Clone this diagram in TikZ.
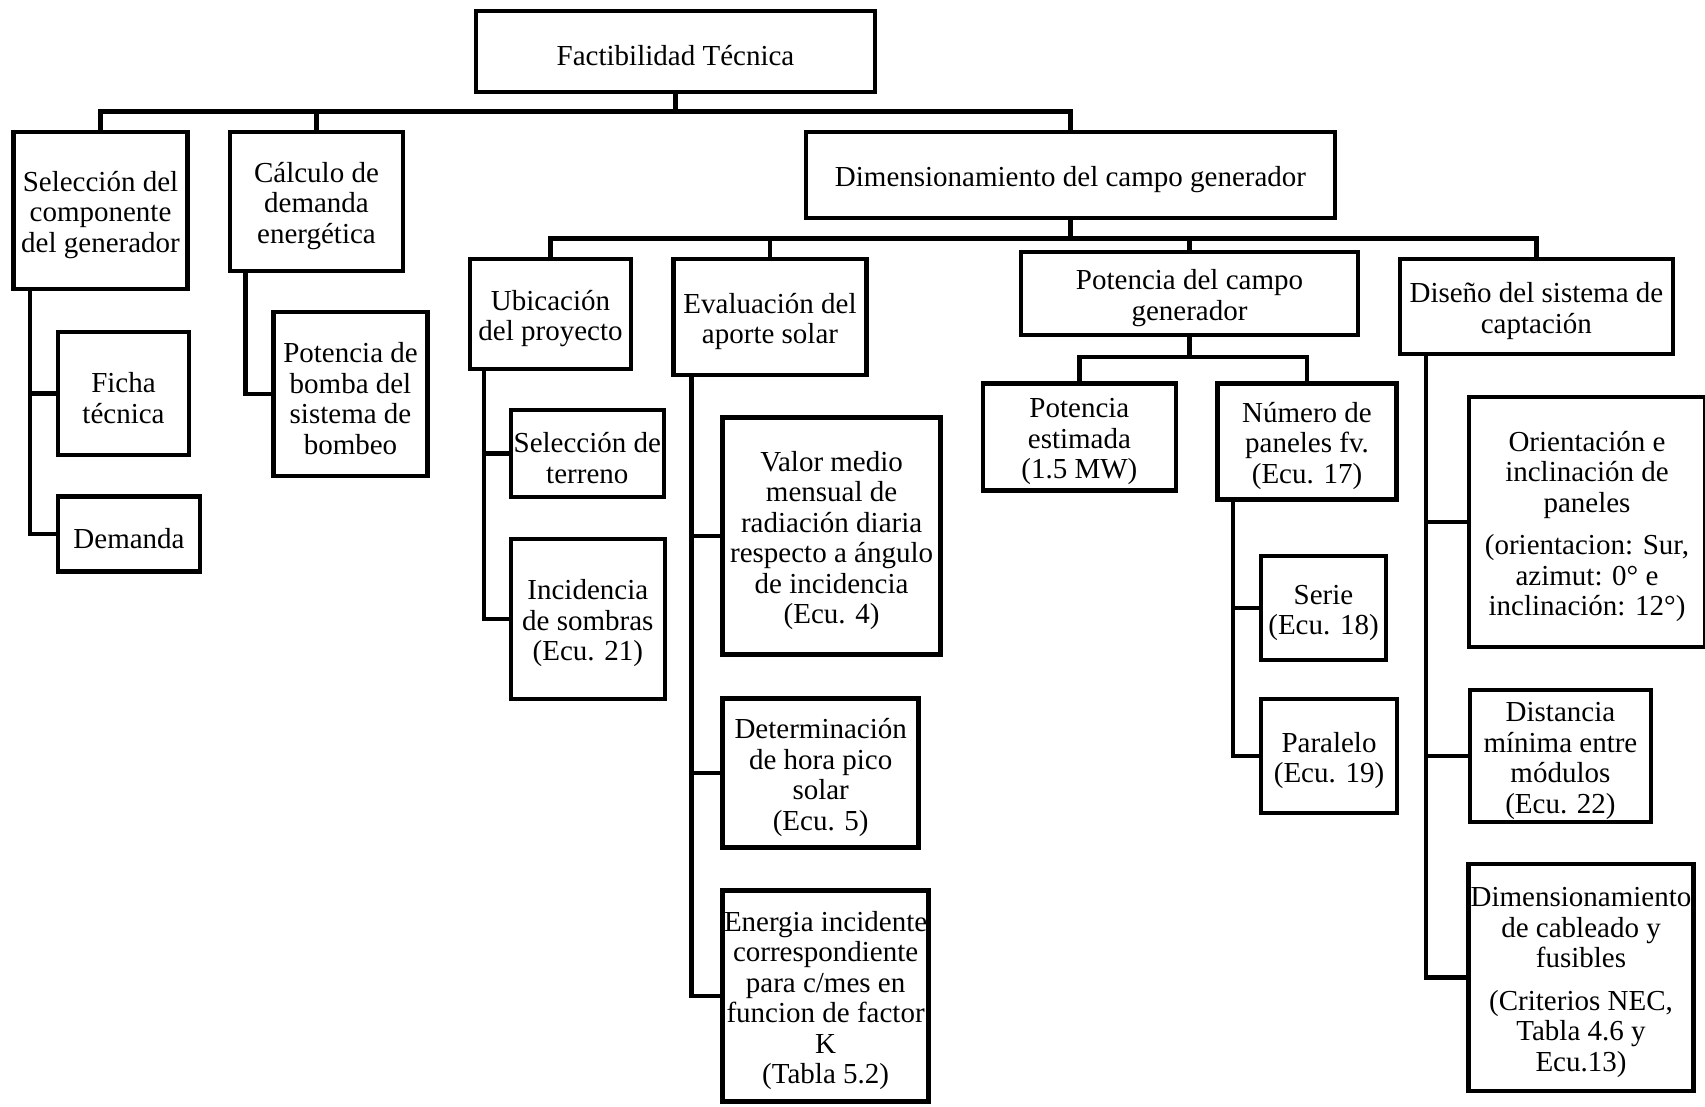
\documentclass[tikz,border=0pt]{standalone}
\usepackage{fontspec}
\setmainfont{Liberation Serif}
\usepackage{tikz}
\newcommand\boxstrut{\rule{0pt}{29pt}}

\begin{document}
\begin{tikzpicture}[x=1pt, y=-1pt,
  box/.style={rectangle, draw=black, line width=4.5pt, fill=white, inner sep=0pt, outer sep=0pt, align=center, font=\fontsize{29}{30.5}\selectfont},
  link/.style={draw=black, line width=4.5pt, line cap=rect, line join=miter}
]
\useasboundingbox (0,0) rectangle (1705,1106);
\node[box, minimum width=399pt, minimum height=81pt] (top) at (675.5,51.5) {\boxstrut Factibilidad Técnica};
\node[box, minimum width=174pt, minimum height=157pt] (sel) at (100.5,210.5) {\boxstrut Selección del\\componente\\del generador};
\node[box, minimum width=173pt, minimum height=139pt] (calc) at (316.5,201.5) {\boxstrut Cálculo de\\demanda\\energética};
\node[box, minimum width=529pt, minimum height=86pt] (dim) at (1070.5,175) {\boxstrut Dimensionamiento del campo generador};
\node[box, minimum width=131pt, minimum height=123pt] (ficha) at (123.5,393.5) {\boxstrut Ficha\\técnica};
\node[box, minimum width=142pt, minimum height=75pt] (dem) at (129,534) {\boxstrut Demanda};
\node[box, minimum width=154pt, minimum height=164pt] (bomba) at (350.5,394) {\boxstrut Potencia de\\bomba del\\sistema de\\bombeo};
\node[box, minimum width=161pt, minimum height=110pt] (ubic) at (550.5,314) {\boxstrut Ubicación\\del proyecto};
\node[box, minimum width=193pt, minimum height=116pt] (eval) at (770,317) {\boxstrut Evaluación del\\aporte solar};
\node[box, minimum width=337pt, minimum height=83pt] (pcampo) at (1189.5,293.7) {\boxstrut Potencia del campo\\generador};
\node[box, minimum width=273pt, minimum height=95pt] (disenio) at (1536.4,306.7) {\boxstrut Diseño del sistema de\\captación};
\node[box, minimum width=153pt, minimum height=87pt] (terreno) at (587.3,453.5) {\boxstrut Selección de\\terreno};
\node[box, minimum width=154pt, minimum height=160pt] (sombras) at (587.8,619) {\boxstrut Incidencia\\de sombras\\(Ecu. 21)};
\node[box, minimum width=218pt, minimum height=237pt] (valor) at (831.6,536) {\boxstrut Valor medio\\mensual de\\radiación diaria\\respecto a ángulo\\de incidencia\\(Ecu. 4)};
\node[box, minimum width=196pt, minimum height=149pt] (hps) at (820.7,773) {\boxstrut Determinación\\de hora pico\\solar\\(Ecu. 5)};
\node[box, minimum width=206pt, minimum height=211pt] (energia) at (825.6,996) {\boxstrut Energia incidente\\correspondiente\\para c/mes en\\funcion de factor\\K\\(Tabla 5.2)};
\node[box, minimum width=193pt, minimum height=107pt] (pest) at (1079.4,437) {\boxstrut Potencia\\estimada\\(1.5 MW)};
\node[box, minimum width=179pt, minimum height=116pt] (npan) at (1307,441.5) {\boxstrut Número de\\paneles fv.\\(Ecu. 17)};
\node[box, minimum width=125pt, minimum height=104pt] (serie) at (1323.5,608) {\boxstrut Serie\\(Ecu. 18)};
\node[box, minimum width=136pt, minimum height=114pt] (paralelo) at (1329,756) {\boxstrut Paralelo\\(Ecu. 19)};
\node[box, minimum width=236pt, minimum height=250pt] (orient) at (1587,522) {\boxstrut Orientación e\\inclinación de\\paneles\\[12pt](orientacion: Sur,\\azimut: 0° e\\inclinación: 12°)};
\node[box, minimum width=181pt, minimum height=132pt] (dist) at (1560.4,756) {\boxstrut Distancia\\mínima entre\\módulos\\(Ecu. 22)};
\node[box, minimum width=225pt, minimum height=227pt] (cable) at (1581,977.5) {\boxstrut Dimensionamiento\\de cableado y\\fusibles\\[12pt](Criterios NEC,\\Tabla 4.6 y\\Ecu.13)};

\draw[link] (top.south) -- ++(0,19.5) -| (sel.north);
\draw[link] (top.south) -- ++(0,19.5) -| (calc.north);
\draw[link] (top.south) -- ++(0,19.5) -| (dim.north);
\draw[link] (dim.south) -- ++(0,20.6) -| (ubic.north);
\draw[link] (dim.south) -- ++(0,20.6) -| (eval.north);
\draw[link] (dim.south) -- ++(0,20.6) -| (pcampo.north);
\draw[link] (dim.south) -- ++(0,20.6) -| (disenio.north);
\draw[link] (pcampo.south) -- ++(0,21.8) -| (pest.north);
\draw[link] (pcampo.south) -- ++(0,21.8) -| (npan.north);
\draw[link] ([xshift=16.5pt]sel.south west) |- (ficha.west);
\draw[link] ([xshift=16.5pt]sel.south west) |- (dem.west);
\draw[link] ([xshift=15.7pt]calc.south west) |- (bomba.west);
\draw[link] ([xshift=14pt]ubic.south west) |- (terreno.west);
\draw[link] ([xshift=14pt]ubic.south west) |- (sombras.west);
\draw[link] ([xshift=18.2pt]eval.south west) |- (valor.west);
\draw[link] ([xshift=18.2pt]eval.south west) |- (hps.west);
\draw[link] ([xshift=18.2pt]eval.south west) |- (energia.west);
\draw[link] ([xshift=15.5pt]npan.south west) |- (serie.west);
\draw[link] ([xshift=15.5pt]npan.south west) |- (paralelo.west);
\draw[link] ([xshift=26pt]disenio.south west) |- (orient.west);
\draw[link] ([xshift=26pt]disenio.south west) |- (dist.west);
\draw[link] ([xshift=26pt]disenio.south west) |- (cable.west);
\end{tikzpicture}
\end{document}
